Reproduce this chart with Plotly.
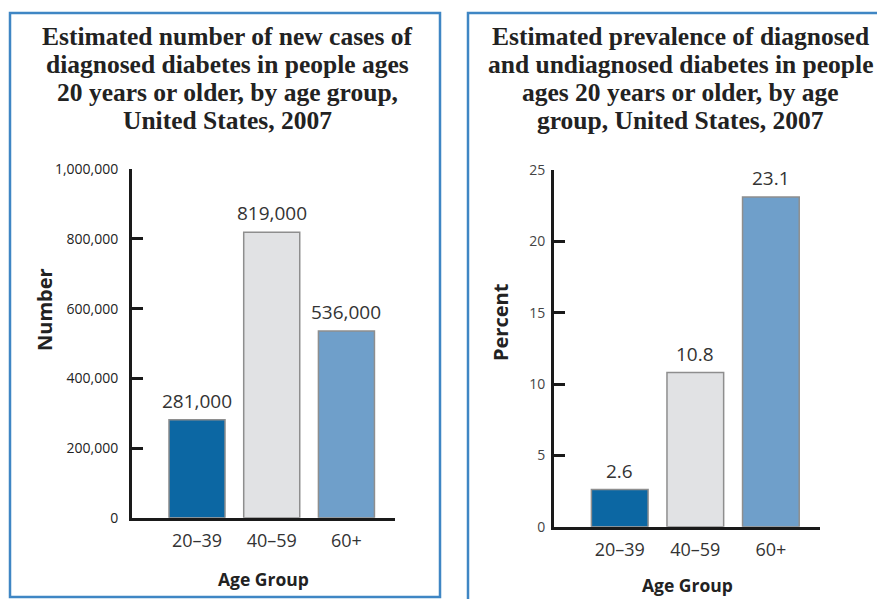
import plotly.graph_objects as go

age_groups = ["20–39", "40–59", "60+"]
new_cases = [281000, 819000, 536000]
prevalence = [2.6, 10.8, 23.1]
bar_colors = ["#0c67a3", "#e1e2e4", "#6f9fca"]

title_left = ["Estimated number of new cases of",
              "diagnosed diabetes in people ages",
              "20 years or older, by age group,",
              "United States, 2007"]
title_right = ["Estimated prevalence of diagnosed",
               "and undiagnosed diabetes in people",
               "ages 20 years or older, by age",
               "group, United States, 2007"]

# the page body has an 8px margin, so the figure starts at (8, 8) in the window
OFF = 8
W, H = 885 - OFF, 599 - OFF
def px(sx):
    return (sx - OFF) / W
def py(sy):
    return 1 - (sy - OFF) / H

fig = go.Figure()
panels = [("x", "y", new_cases, "{:,.0f}"), ("x2", "y2", prevalence, "{:.1f}")]
for xa, ya, vals, fmt in panels:
    fig.add_trace(go.Bar(
        x=age_groups, y=vals, xaxis=xa, yaxis=ya,
        marker=dict(color=bar_colors, line=dict(color="#8e8e8e", width=1.5)),
        width=0.75, showlegend=False, hoverinfo="x+y",
    ))
    for cat, v in zip(age_groups, vals):
        fig.add_annotation(text=fmt.format(v), x=cat, y=v, xref=xa, yref=ya,
                           showarrow=False, yanchor="middle", yshift=19,
                           font=dict(family="Open Sans", size=19, color="#333333"))

xcommon = dict(range=[-0.87, 2.65], showline=True, linecolor="#1a1a1a", linewidth=3,
               ticks="", showgrid=False, zeroline=False, automargin=False,
               tickfont=dict(family="Open Sans", size=18, color="#333333"),
               ticklabelstandoff=5)
ycommon = dict(showline=True, linecolor="#1a1a1a", linewidth=3, ticks="inside",
               ticklen=11, tickwidth=3, tickcolor="#1a1a1a", showgrid=False,
               zeroline=False, automargin=False)

fig.update_layout(
    width=W, height=H, margin=dict(l=0, r=0, t=0, b=0, autoexpand=False),
    paper_bgcolor="white", plot_bgcolor="white",
    xaxis=dict(domain=[px(132), px(395)], anchor="y", **xcommon),
    yaxis=dict(domain=[py(517.7), py(169.3)], anchor="x", range=[0, 1000000],
               tickvals=[0, 200000, 400000, 600000, 800000, 1000000], tickformat=",",
               ticklabelstandoff=8,
               tickfont=dict(family="Open Sans", size=14, color="#222222"), **ycommon),
    xaxis2=dict(domain=[px(554), px(820)], anchor="y2", **xcommon),
    yaxis2=dict(domain=[py(526.7), py(170)], anchor="x2", range=[0, 25],
                tickvals=[0, 5, 10, 15, 20, 25], ticklabelstandoff=3,
                tickfont=dict(family="Open Sans", size=14, color="#444444"), **ycommon),
)

# panel borders
fig.add_shape(type="rect", xref="paper", yref="paper", x0=px(10), x1=px(440), y0=py(597), y1=py(13),
              line=dict(color="#3f86c4", width=2.5))
fig.add_shape(type="rect", xref="paper", yref="paper", x0=px(468), x1=px(900), y0=py(620), y1=py(13),
              line=dict(color="#3f86c4", width=2.5))

tfont = dict(family="Liberation Serif", size=25.5, color="#222222")
line_centers = [37, 65, 92.5, 120.5]
for cx, lines in [(227, title_left), (680, title_right)]:
    for yc, line in zip(line_centers, lines):
        fig.add_annotation(text="<b>" + line + "</b>", xref="paper", yref="paper",
                           x=px(cx), y=py(yc), showarrow=False, font=tfont,
                           xanchor="center", yanchor="middle")

afont = dict(family="Open Sans", size=17.5, color="#222222")
vfont = dict(family="Open Sans", size=20, color="#222222")
fig.add_annotation(text="<b>Age Group</b>", xref="paper", yref="paper", x=px(263), y=py(579),
                   showarrow=False, font=afont, xanchor="center", yanchor="middle")
fig.add_annotation(text="<b>Age Group</b>", xref="paper", yref="paper", x=px(687), y=py(585),
                   showarrow=False, font=afont, xanchor="center", yanchor="middle")
fig.add_annotation(text="<b>Number</b>", xref="paper", yref="paper", x=px(44), y=py(310),
                   showarrow=False, font=vfont, textangle=-90, xanchor="center", yanchor="middle")
fig.add_annotation(text="<b>Percent</b>", xref="paper", yref="paper", x=px(500), y=py(322),
                   showarrow=False, font=vfont, textangle=-90, xanchor="center", yanchor="middle")

fig.write_html("out.html")
